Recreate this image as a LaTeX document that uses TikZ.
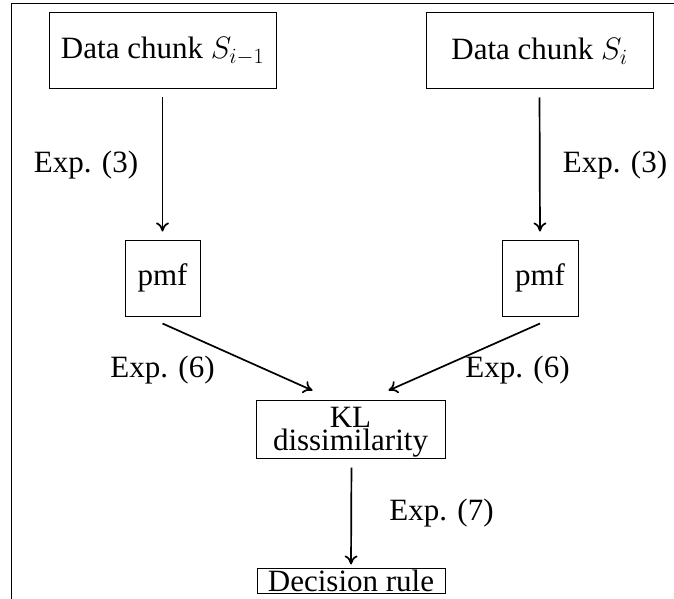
\RequirePackage{fix-cm}
\documentclass[tikz,border=0pt]{standalone}
\usepackage[no-math]{fontspec}
\setmainfont{Liberation Serif}
\usetikzlibrary{arrows.meta}
\tikzset{
  boxnode/.style={draw, line width=1pt, inner sep=0pt, align=center},
  flow/.style={line width=1.7pt, -{To[length=9pt,width=13pt]}},
  lbl/.style={inner sep=0pt, anchor=base},
  framelinestyle/.style={line width=1pt}
}
\begin{document}
\begin{tikzpicture}[x=1pt,y=-1pt]
\fontsize{31}{23}\selectfont
\useasboundingbox (0,0) rectangle (674,599);
% frame
\coordinate (fc) at (11,4);
\coordinate (fr) at (674,4);
\coordinate (fb) at (11,599);
\draw[framelinestyle] (fr) -- (fc) -- (fb);
% nodes
\node[boxnode, minimum width=227pt, minimum height=76pt] (d1) at (162.5,51) {Data chunk $S_{i-1}$};
\node[boxnode, minimum width=227pt, minimum height=76pt] (d2) at (539.5,51) {Data chunk $S_i$};
\node[boxnode, minimum width=75pt, minimum height=76pt] (p1) at (162.5,278) {pmf};
\node[boxnode, minimum width=76pt, minimum height=76pt] (p2) at (540,278) {pmf};
\node[boxnode, minimum width=189pt, minimum height=58pt] (kl) at (350.5,429) {\baselineskip=22pt\rule{0pt}{26.5pt}KL\\dissimilarity};
\node[boxnode, minimum width=188pt, minimum height=25pt] (dr) at (351,580.5) {Decision rule};
% connectors
\draw[flow, shorten <=8pt, shorten >=8pt] (d1.south) -- (p1.north);
\draw[flow, shorten <=8pt, shorten >=8pt] (d2.south) -- (p2.north);
\draw[flow] ([yshift=-7pt]p1.south) -- ([xshift=-38pt,yshift=9pt]kl.north);
\draw[flow] ([yshift=-7pt]p2.south) -- ([xshift=38pt,yshift=9pt]kl.north);
\draw[flow, shorten <=9pt, shorten >=3pt] ([xshift=1pt]kl.south) -- (dr.north);
% labels
\node[lbl] (e3a) at (86,172) {Exp. (3)};
\node[lbl] (e3b) at (615,172) {Exp. (3)};
\node[lbl] (e6a) at (162.5,377) {Exp. (6)};
\node[lbl] (e6b) at (517.5,377) {Exp. (6)};
\node[lbl] (e7) at (441.5,520) {Exp. (7)};
\end{tikzpicture}
\end{document}
